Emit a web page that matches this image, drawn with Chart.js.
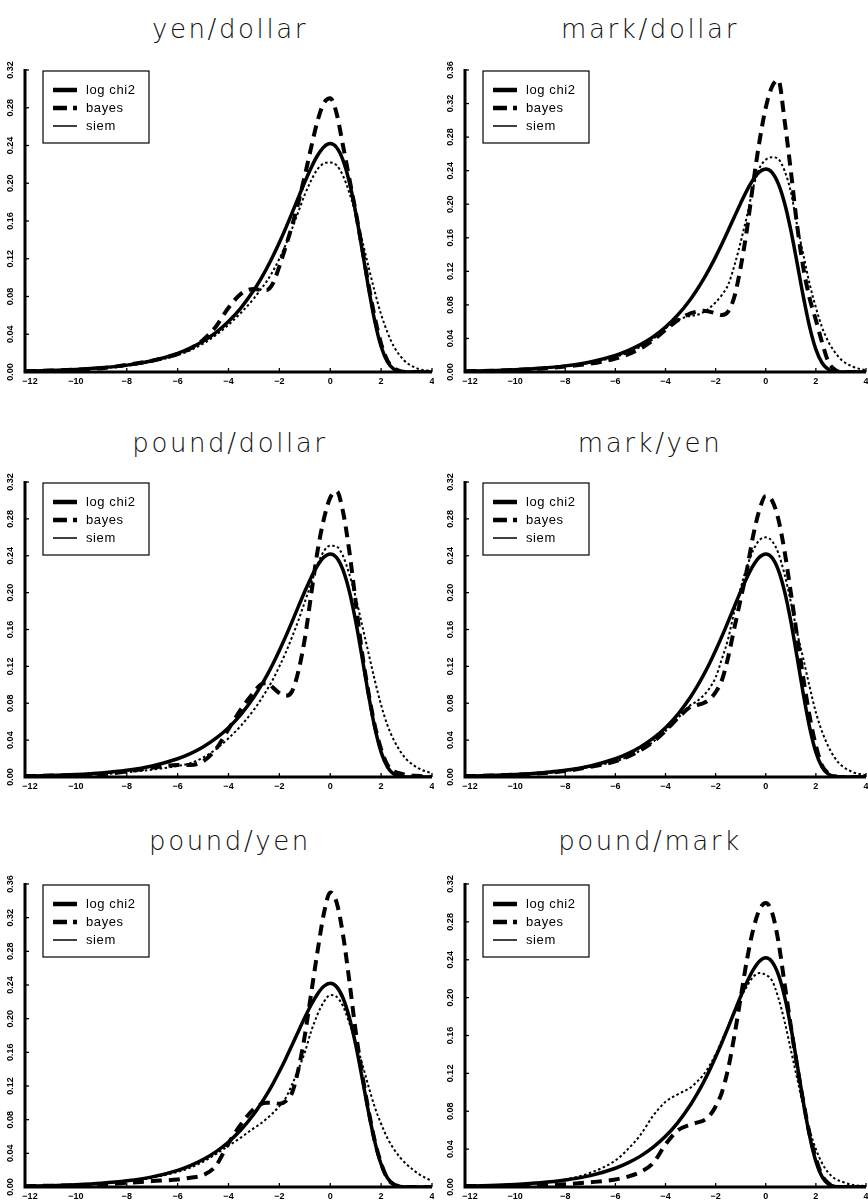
<!DOCTYPE html>
<html>
<head>
<meta charset="utf-8">
<script src="https://cdn.jsdelivr.net/npm/chart.js@4"></script>
<style>
  body { margin: 0; background: #fff; width: 868px; height: 1201px; position: relative; overflow: hidden; }
  canvas { position: absolute; }
  .title { position: absolute; font-family: "DejaVu Sans", sans-serif; font-weight: 200; font-size: 26px;
           letter-spacing: 2.6px; color: #111; line-height: 1; white-space: nowrap; transform: translateX(-50%); }
</style>
</head>
<body>
<script>
// x grid shared by every panel
const xs = [-12, -11, -10, -9, -8, -7, -6, -5.5, -5, -4.5, -4, -3.5, -3, -2.75, -2.5, -2.25, -2, -1.75, -1.5, -1.25,
  -1, -0.75, -0.5, -0.25, 0, 0.25, 0.5, 0.75, 1, 1.25, 1.5, 1.75, 2, 2.25, 2.5, 2.75, 3, 3.5, 4];

// solid line, same in all six panels
const logChi2 = [0.001, 0.0016, 0.0027, 0.0044, 0.0073, 0.012, 0.0198, 0.0254, 0.0326, 0.0418, 0.0535, 0.0683, 0.0868, 0.0977,
  0.1097, 0.1229, 0.1372, 0.1525, 0.1686, 0.1851, 0.2013, 0.2165, 0.2294, 0.2385, 0.242, 0.2379, 0.2246, 0.2014, 0.169,
  0.1301, 0.0898, 0.0539, 0.027, 0.0107, 0.0031, 0.0006, 0.0001, 0, 0];

const yenDollarBayes = [0.001, 0.0015, 0.0025, 0.004, 0.0075, 0.012, 0.019, 0.025, 0.034, 0.048, 0.068, 0.083, 0.088, 0.087,
  0.087, 0.094, 0.112, 0.133, 0.155, 0.18, 0.208, 0.238, 0.266, 0.285, 0.29, 0.274, 0.24, 0.205, 0.17, 0.132, 0.093, 0.058,
  0.03, 0.012, 0.004, 0.001, 0, 0, 0];
const yenDollarSiem = [0.001, 0.0015, 0.0025, 0.004, 0.0065, 0.011, 0.018, 0.023, 0.03, 0.039, 0.05, 0.063, 0.078, 0.087,
  0.096, 0.107, 0.12, 0.135, 0.152, 0.17, 0.188, 0.203, 0.215, 0.221, 0.222, 0.219, 0.208, 0.19, 0.167, 0.14, 0.112, 0.085,
  0.061, 0.042, 0.027, 0.017, 0.01, 0.003, 0.001];

const markDollarBayes = [0.001, 0.0015, 0.0025, 0.004, 0.0065, 0.01, 0.016, 0.021, 0.028, 0.038, 0.05, 0.062, 0.07, 0.072,
  0.073, 0.072, 0.07, 0.068, 0.072, 0.09, 0.125, 0.17, 0.225, 0.275, 0.315, 0.34, 0.348, 0.3, 0.24, 0.175, 0.124, 0.088,
  0.062, 0.035, 0.012, 0.003, 0, 0, 0];
const markDollarSiem = [0.001, 0.0015, 0.0025, 0.004, 0.007, 0.011, 0.018, 0.023, 0.03, 0.039, 0.052, 0.062, 0.067, 0.068,
  0.071, 0.076, 0.083, 0.092, 0.104, 0.127, 0.155, 0.186, 0.22, 0.243, 0.253, 0.256, 0.254, 0.24, 0.215, 0.175, 0.14, 0.105,
  0.077, 0.053, 0.036, 0.024, 0.015, 0.006, 0.002];

const poundDollarBayes = [0.001, 0.0015, 0.002, 0.003, 0.006, 0.01, 0.013, 0.013, 0.017, 0.03, 0.052, 0.074, 0.092, 0.1,
  0.102, 0.097, 0.091, 0.088, 0.093, 0.115, 0.15, 0.198, 0.245, 0.28, 0.303, 0.31, 0.288, 0.245, 0.19, 0.135, 0.092, 0.056,
  0.03, 0.013, 0.006, 0.004, 0.002, 0.001, 0];
const poundDollarSiem = [0.001, 0.0015, 0.002, 0.003, 0.005, 0.008, 0.012, 0.015, 0.021, 0.03, 0.042, 0.056, 0.073, 0.083,
  0.094, 0.106, 0.12, 0.135, 0.152, 0.17, 0.19, 0.21, 0.23, 0.245, 0.251, 0.25, 0.24, 0.22, 0.195, 0.165, 0.135, 0.105,
  0.078, 0.056, 0.04, 0.028, 0.019, 0.009, 0.004];

const markYenBayes = [0.001, 0.0015, 0.0025, 0.004, 0.0065, 0.011, 0.017, 0.022, 0.029, 0.038, 0.05, 0.064, 0.076, 0.078,
  0.08, 0.084, 0.092, 0.105, 0.13, 0.162, 0.193, 0.225, 0.262, 0.29, 0.305, 0.3, 0.28, 0.245, 0.2, 0.153, 0.107, 0.066,
  0.034, 0.012, 0.004, 0.001, 0, 0, 0];
const markYenSiem = [0.001, 0.0015, 0.0025, 0.004, 0.0065, 0.011, 0.017, 0.022, 0.029, 0.038, 0.05, 0.064, 0.078, 0.082,
  0.088, 0.096, 0.108, 0.128, 0.15, 0.18, 0.205, 0.228, 0.246, 0.257, 0.26, 0.256, 0.243, 0.22, 0.19, 0.157, 0.128, 0.098,
  0.07, 0.049, 0.033, 0.021, 0.013, 0.005, 0.002];

const poundYenBayes = [0.001, 0.0015, 0.002, 0.003, 0.005, 0.007, 0.009, 0.011, 0.014, 0.025, 0.052, 0.075, 0.093, 0.098,
  0.1, 0.1, 0.099, 0.102, 0.112, 0.14, 0.18, 0.23, 0.28, 0.325, 0.35, 0.338, 0.3, 0.245, 0.185, 0.135, 0.092, 0.055,
  0.028, 0.01, 0.003, 0.001, 0, 0, 0];
const poundYenSiem = [0.001, 0.0015, 0.0025, 0.004, 0.0065, 0.011, 0.018, 0.023, 0.03, 0.039, 0.049, 0.059, 0.07, 0.075,
  0.081, 0.088, 0.096, 0.106, 0.122, 0.14, 0.16, 0.185, 0.205, 0.22, 0.228, 0.226, 0.215, 0.195, 0.172, 0.147, 0.12, 0.095,
  0.075, 0.058, 0.045, 0.035, 0.027, 0.015, 0.007];

const poundMarkBayes = [0.001, 0.001, 0.0015, 0.002, 0.003, 0.005, 0.008, 0.011, 0.016, 0.025, 0.045, 0.06, 0.066, 0.068,
  0.07, 0.075, 0.085, 0.1, 0.125, 0.16, 0.2, 0.24, 0.272, 0.293, 0.3, 0.29, 0.26, 0.215, 0.17, 0.128, 0.09, 0.056,
  0.03, 0.012, 0.004, 0.001, 0, 0, 0];
const poundMarkSiem = [0.001, 0.0015, 0.002, 0.004, 0.008, 0.015, 0.028, 0.04, 0.055, 0.075, 0.09, 0.098, 0.105, 0.111,
  0.118, 0.128, 0.14, 0.155, 0.17, 0.186, 0.2, 0.212, 0.222, 0.226, 0.224, 0.218, 0.2, 0.175, 0.145, 0.115, 0.085, 0.06,
  0.04, 0.025, 0.015, 0.009, 0.006, 0.002, 0.001];

const panelTitles = ['yen/dollar', 'mark/dollar', 'pound/dollar', 'mark/yen', 'pound/yen', 'pound/mark'];
const seriesNames = ['log chi2', 'bayes', 'siem'];
const xTicks = [-12, -10, -8, -6, -4, -2, 0, 2, 4];
const xTickLabels = ['\u221212', '\u221210', '\u22128', '\u22126', '\u22124', '\u22122', '0', '2', '4'];
const yTicks32 = ['0.00', '0.04', '0.08', '0.12', '0.16', '0.20', '0.24', '0.28', '0.32'];
const yTicks36 = ['0.00', '0.04', '0.08', '0.12', '0.16', '0.20', '0.24', '0.28', '0.32', '0.36'];

const panelBayes = [yenDollarBayes, markDollarBayes, poundDollarBayes, markYenBayes, poundYenBayes, poundMarkBayes];
const panelSiem = [yenDollarSiem, markDollarSiem, poundDollarSiem, markYenSiem, poundYenSiem, poundMarkSiem];
const panelYTicks = [yTicks32, yTicks36, yTicks32, yTicks32, yTicks36, yTicks32];

// page layout
const cols = [
  {left: 0, plotL: 25, plotR: 432, titleX: 230},
  {left: 434, plotL: 465, plotR: 866, titleX: 650},
];
const rows = [
  {top: 0, h: 400, plotT: 70, plotB: 372, titleTop: 16},
  {top: 400, h: 405, plotT: 482, plotB: 777, titleTop: 430},
  {top: 805, h: 396, plotT: 884, plotB: 1187, titleTop: 828},
];
const COL_W = 434;

const lineStyles = [
  {borderWidth: 3.5, borderDash: []},
  {borderWidth: 4, borderDash: [11, 7]},
  {borderWidth: 2, borderDash: [2.5, 2.5]},
];

function points(ys) {
  return xs.map((x, i) => ({x: x, y: ys[i]}));
}

// axes, ticks, rotated y labels and the boxed legend
const framePlugin = {
  id: 'frame',
  afterDatasetsDraw(chart, args, opts) {
    const {ctx, chartArea: a, scales: {x, y}} = chart;
    ctx.save();
    ctx.strokeStyle = '#000';
    ctx.fillStyle = '#000';

    // axis lines
    ctx.lineWidth = 3;
    ctx.beginPath();
    ctx.moveTo(a.left, a.top - 1);
    ctx.lineTo(a.left, a.bottom);
    ctx.lineTo(a.right, a.bottom);
    ctx.stroke();

    // y ticks + labels
    ctx.lineWidth = 1.3;
    ctx.font = 'bold 9px "Liberation Sans", sans-serif';
    ctx.textAlign = 'center';
    ctx.textBaseline = 'middle';
    opts.yLabels.forEach(lbl => {
      const py = y.getPixelForValue(parseFloat(lbl));
      ctx.beginPath();
      ctx.moveTo(a.left, py);
      ctx.lineTo(a.left + 4, py);
      ctx.stroke();
      ctx.save();
      ctx.translate(a.left - 14, py);
      ctx.rotate(-Math.PI / 2);
      ctx.fillText(lbl, 0, 0);
      ctx.restore();
    });

    // x ticks + labels
    xTicks.forEach((v, i) => {
      const px = x.getPixelForValue(v);
      ctx.beginPath();
      ctx.moveTo(px, a.bottom);
      ctx.lineTo(px, a.bottom - 4);
      ctx.stroke();
      ctx.fillText(xTickLabels[i], i === 0 ? px + 5 : px, a.bottom + 10);
    });

    // legend box
    const bx = a.left + 18, by = a.top + 1, bw = 106, bh = 72;
    ctx.lineWidth = 1.2;
    ctx.strokeRect(bx, by, bw, bh);
    ctx.font = '13px "Liberation Sans", sans-serif';
    ctx.textAlign = 'left';
    ctx.letterSpacing = '0.6px';
    const legendWidths = [4.5, 4.5, 1.5];
    const legendDash = [[], [14, 6], []];
    seriesNames.forEach((name, i) => {
      const ly = by + 19 + i * 18;
      ctx.lineWidth = legendWidths[i];
      ctx.setLineDash(legendDash[i]);
      ctx.beginPath();
      ctx.moveTo(bx + 10, ly);
      ctx.lineTo(bx + 34, ly);
      ctx.stroke();
      ctx.setLineDash([]);
      ctx.fillText(name, bx + 43, ly);
    });
    ctx.restore();
  }
};

for (let p = 0; p < 6; p++) {
  const col = cols[p % 2];
  const row = rows[Math.floor(p / 2)];

  const title = document.createElement('div');
  title.className = 'title';
  title.textContent = panelTitles[p];
  title.style.left = col.titleX + 'px';
  title.style.top = row.titleTop + 'px';
  document.body.appendChild(title);

  const canvas = document.createElement('canvas');
  canvas.width = COL_W;
  canvas.height = row.h;
  canvas.style.left = col.left + 'px';
  canvas.style.top = row.top + 'px';
  document.body.appendChild(canvas);

  const yLabels = panelYTicks[p];
  const seriesData = [logChi2, panelBayes[p], panelSiem[p]];

  new Chart(canvas.getContext('2d'), {
    type: 'line',
    data: {
      datasets: seriesData.map((ys, i) => ({
        label: seriesNames[i],
        data: points(ys),
        borderColor: '#000',
        borderWidth: lineStyles[i].borderWidth,
        borderDash: lineStyles[i].borderDash,
        borderCapStyle: 'butt',
        pointRadius: 0,
        fill: false,
        cubicInterpolationMode: 'monotone',
      })),
    },
    options: {
      responsive: false,
      animation: false,
      layout: {
        padding: {
          left: col.plotL - col.left,
          right: col.left + COL_W - col.plotR,
          top: row.plotT - row.top,
          bottom: row.top + row.h - row.plotB,
        },
      },
      scales: {
        x: {type: 'linear', min: -12, max: 4, display: false},
        y: {min: 0, max: parseFloat(yLabels[yLabels.length - 1]), display: false},
      },
      plugins: {
        legend: {display: false},
        tooltip: {enabled: false},
        frame: {yLabels: yLabels},
      },
    },
    plugins: [framePlugin],
  });
}
</script>
</body>
</html>
